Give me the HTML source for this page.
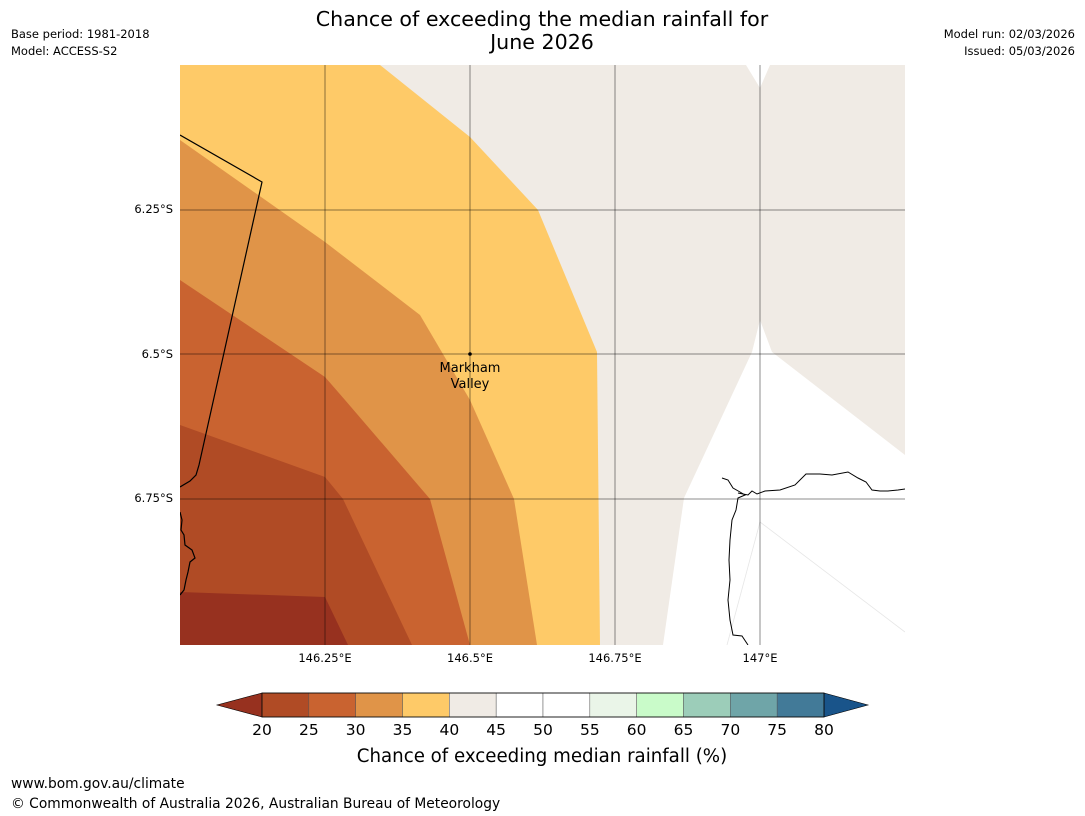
<!DOCTYPE html>
<html><head><meta charset="utf-8"><style>
body{margin:0;background:#fff;font-family:"DejaVu Sans","Liberation Sans",sans-serif}
svg{display:block}
</style></head><body>
<svg width="1085" height="816" viewBox="0 0 1085 816" xmlns="http://www.w3.org/2000/svg" font-family="DejaVu Sans, Liberation Sans, sans-serif">
<text x="542" y="26" font-size="20.6" text-anchor="middle">Chance of exceeding the median rainfall for</text>
<text x="542" y="49" font-size="20.6" text-anchor="middle">June 2026</text>
<text x="11" y="38" font-size="11.5">Base period: 1981-2018</text>
<text x="11" y="55" font-size="11.5">Model: ACCESS-S2</text>
<text x="1075" y="38" font-size="11.5" text-anchor="end">Model run: 02/03/2026</text>
<text x="1075" y="55" font-size="11.5" text-anchor="end">Issued: 05/03/2026</text>
<defs><clipPath id="mc"><rect x="180" y="65" width="725" height="580"/></clipPath></defs>
<g clip-path="url(#mc)">
<rect x="180" y="65" width="725" height="580" fill="#fff"/>
<polygon fill="#f0ebe5" points="180,65 746,65 760,88 770,65 905,65 905,455 772,352 760,320 752,352 684,498 663,645 180,645"/>
<polyline points="760,522 905,632" fill="none" stroke="#e6e6e6" stroke-width="0.8"/>
<polyline points="760,522 727,645" fill="none" stroke="#e6e6e6" stroke-width="0.8"/>
<polygon fill="#feca68" points="180,65 380,65 470,137 538,210 597,352 600,645 180,645"/>
<polygon fill="#e09448" points="180,140 325,242 420,315 470,400 514,499 537,645 180,645"/>
<polygon fill="#c96330" points="180,280 325,377 345,400 430,499 470,645 180,645"/>
<polygon fill="#b04b25" points="180,425 325,477 343,499 412,645 180,645"/>
<polygon fill="#97311f" points="180,592 325,597 348,645 180,645"/>
<g stroke="#000" stroke-opacity="0.45" stroke-width="1">
<line x1="325" y1="65" x2="325" y2="645"/><line x1="470" y1="65" x2="470" y2="645"/>
<line x1="615" y1="65" x2="615" y2="645"/><line x1="760" y1="65" x2="760" y2="645"/>
<line x1="180" y1="210" x2="905" y2="210"/><line x1="180" y1="354" x2="905" y2="354"/><line x1="180" y1="499" x2="905" y2="499"/>
</g>
<polyline fill="none" stroke="#000" stroke-width="1.2" points="180,135 262,182 199,465 196,475 190,481 180,487"/>
<polyline fill="none" stroke="#000" stroke-width="1.2" points="180,512 182,520 181,530 184,535 185,545 192,550 195,558 190,562 188,572 186,580 184,590 180,595"/>
<polyline fill="none" stroke="#000" stroke-width="1" points="722,478 728,480 733,488 740,492 745,495 738,498 736,510 732,520 730,540 729,560 730,580 728,600 730,620 733,635 742,636 748,645"/>
<polyline fill="none" stroke="#000" stroke-width="1" points="738,493 748,495 752,491 757,494 765,491 780,490 795,485 806,474 820,474 832,475 848,472 858,478 866,482 872,490 880,491 888,491 898,490 905,489"/>
<circle cx="470" cy="354" r="1.8" fill="#000"/>
<text x="470" y="372" font-size="13" text-anchor="middle">Markham</text>
<text x="470" y="388" font-size="13" text-anchor="middle">Valley</text>
</g>
<g font-size="11.5">
<text x="173" y="213" text-anchor="end">6.25°S</text>
<text x="173" y="358" text-anchor="end">6.5°S</text>
<text x="173" y="502" text-anchor="end">6.75°S</text>
<text x="325" y="662" text-anchor="middle">146.25°E</text>
<text x="470" y="662" text-anchor="middle">146.5°E</text>
<text x="615" y="662" text-anchor="middle">146.75°E</text>
<text x="760" y="662" text-anchor="middle">147°E</text>
</g>
<g id="cbar"></g>
<text x="542" y="762" font-size="18.2" text-anchor="middle">Chance of exceeding median rainfall (%)</text>
<text x="11" y="788" font-size="13.8">www.bom.gov.au/climate</text>
<text x="11" y="808" font-size="13.8">© Commonwealth of Australia 2026, Australian Bureau of Meteorology</text>
</svg>
<script>
const binEdges=[20,25,30,35,40,45,50,55,60,65,70,75,80];
const binColors=["#b04b25","#c96330","#e09448","#feca68","#f0ebe5","#ffffff","#ffffff","#eaf5e8","#c9fbc9","#9ccdb9","#6fa5a8","#427a98"];
const extColors=["#97311f","#19548a"];
const NS="http://www.w3.org/2000/svg";
const g=document.getElementById('cbar');
const x0=262,x1=824,y0=693,h=24;
const sx=v=>x0+(v-binEdges[0])/(binEdges[binEdges.length-1]-binEdges[0])*(x1-x0);
function mk(t,a){const e=document.createElementNS(NS,t);for(const k in a)e.setAttribute(k,a[k]);g.appendChild(e);return e;}
const lt=mk('polygon',{points:`${x0},${y0} ${x0},${y0+h} 217,${y0+h/2}`,fill:extColors[0],stroke:'#000','stroke-width':0.6});


const rt=mk('polygon',{points:`${x1},${y0} ${x1},${y0+h} 868,${y0+h/2}`,fill:extColors[1],stroke:'#000','stroke-width':0.6});


binColors.forEach((c,i)=>{
 const r=mk('rect',{x:sx(binEdges[i]),y:y0,width:sx(binEdges[i+1])-sx(binEdges[i]),height:h,fill:c,stroke:'#555','stroke-width':0.5});
 
 
});
mk('rect',{x:x0,y:y0,width:x1-x0,height:h,fill:'none',stroke:'#000','stroke-width':0.8});
binEdges.forEach(v=>{
 const t=mk('text',{x:sx(v),y:735,'font-size':15.5,'text-anchor':'middle'});
 t.textContent=v;
 
 
});
</script>
</body></html>
